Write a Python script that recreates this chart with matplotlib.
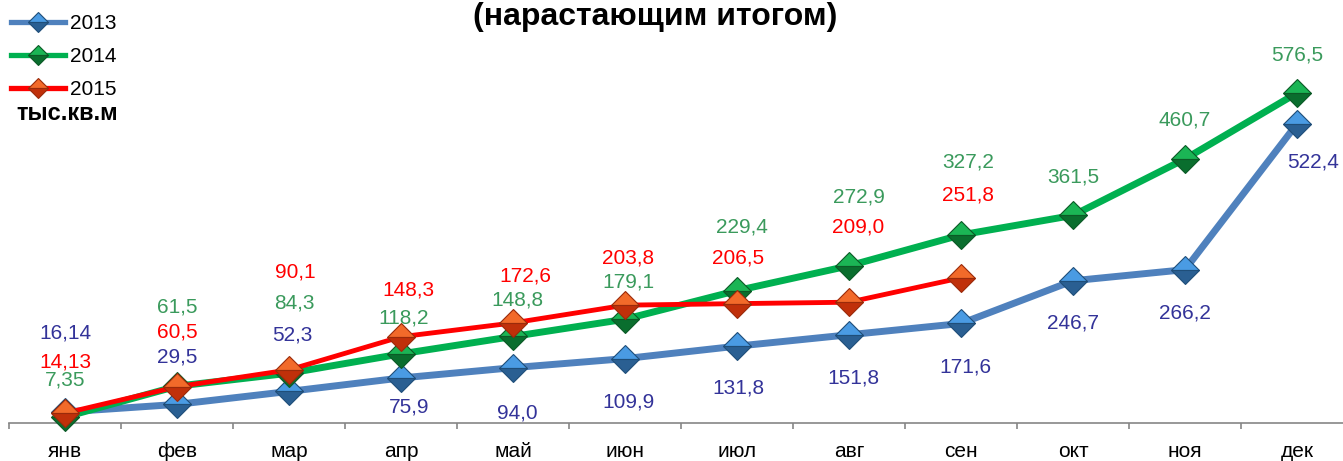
import matplotlib
matplotlib.use('Agg')
import matplotlib.pyplot as plt
from matplotlib.lines import Line2D

plt.rcParams['font.family'] = ['Liberation Sans', 'DejaVu Sans']

months = ['янв', 'фев', 'мар', 'апр', 'май', 'июн', 'июл', 'авг', 'сен', 'окт', 'ноя', 'дек']
years = ['2013', '2014', '2015']

v2013 = [16.14, 29.5, 52.3, 75.9, 94.0, 109.9, 131.8, 151.8, 171.6, 246.7, 266.2, 522.4]
v2014 = [7.35, 61.5, 84.3, 118.2, 148.8, 179.1, 229.4, 272.9, 327.2, 361.5, 460.7, 576.5]
v2015 = [14.13, 60.5, 90.1, 148.3, 172.6, 203.8, 206.5, 209.0, 251.8]

labels2013 = ['16,14', '29,5', '52,3', '75,9', '94,0', '109,9', '131,8', '151,8', '171,6', '246,7', '266,2', '522,4']
labels2014 = ['7,35', '61,5', '84,3', '118,2', '148,8', '179,1', '229,4', '272,9', '327,2', '361,5', '460,7', '576,5']
labels2015 = ['14,13', '60,5', '90,1', '148,3', '172,6', '203,8', '206,5', '209,0', '251,8']

# смещения подписей (пиксели)
dy2013 = [79, 47, 56, -29, -45, -43, -42, -43, -44, -42, -43, -38]
dy2014 = [37, 79, 70, 36, 36, 37, 64, 69, 73, 38, 39, 38]
dy2015 = [51, 55, 98, 47, 47, 47, 46, 75, 83]
dx2013 = [0, 0, 3, 8, 4, 3, 1, 4, 4, 0, 0, 16]
dx2014 = [0, 0, 5, 3, 4, 3, 5, 10, 7, 0, 0, 0]
dx2015 = [0, 0, 6, 7, 12, 3, 1, 9, 7]

W, H = 1343, 461
fig = plt.figure(figsize=(W / 100, H / 100), dpi=100)
ax = fig.add_axes([9 / W, (H - 423) / H, 1344 / W, 423 / H])

series = [
    (v2013, labels2013, dy2013, dx2013, '#4F81BD', 5.0, '#4A9BE3', '#2A5F92', '#1F4E79', '#333399', 3),
    (v2014, labels2014, dy2014, dx2014, '#00B050', 5.0, '#1BB555', '#0A6E2E', '#0B5A26', '#3A9A5C', 4),
    (v2015, labels2015, dy2015, dx2015, '#FF0000', 3.5, '#F26A2A', '#C0300A', '#9A2A0A', '#FF0000', 5),
]

x_all = list(range(len(months)))
for vals, labs, dys, dxs, col, lw, mlight, mdark, medge, tcol, z in series:
    xs = x_all[:len(vals)]
    ax.plot(xs, vals, color=col, lw=lw, marker='D', ms=14.5, fillstyle='top',
            markerfacecolor=mlight, markerfacecoloralt=mdark, markeredgecolor=medge,
            markeredgewidth=0.8, zorder=z, clip_on=False, solid_capstyle='round')
    for xi, v, lab, dy, dx in zip(xs, vals, labs, dys, dxs):
        ax.annotate(lab, (xi, v), xytext=(dx, dy), textcoords='offset pixels',
                    ha='center', va='center', fontsize=15, color=tcol, zorder=10)

ax.set_xlim(-0.5, 11.5)
ax.set_ylim(-3.2, 739.9)
ax.set_xticks(x_all)
ax.set_xticklabels(months, fontsize=15)
ax.set_xticks([i - 0.5 for i in range(13)], minor=True)
ax.tick_params(axis='x', which='major', length=0, pad=13.5)
ax.tick_params(axis='x', which='minor', length=4, color='#868686', width=1.2, direction='out')
ax.set_yticks([])
for s in ['top', 'right', 'left']:
    ax.spines[s].set_visible(False)
ax.spines['bottom'].set_color('#868686')
ax.spines['bottom'].set_linewidth(1.2)
ax.patch.set_alpha(0)

fig.text(655 / W, 1 - 25 / H, '(нарастающим итогом)', ha='center', va='baseline',
         fontsize=23, fontweight='bold')

handles = []
for vals, labs, dys, dxs, col, lw, mlight, mdark, medge, tcol, z in series:
    handles.append(Line2D([0], [0], color=col, lw=3.8, marker='D', ms=10.5, fillstyle='top',
                          markerfacecolor=mlight, markerfacecoloralt=mdark,
                          markeredgecolor=medge, markeredgewidth=0.8))
fig.legend(handles, years, loc='upper left', bbox_to_anchor=(11 / W, 1 - 14 / H),
           frameon=False, fontsize=15, handlelength=2.6, handletextpad=0.25,
           labelspacing=0.68, borderpad=0, borderaxespad=0)

fig.text(67 / W, 1 - 113 / H, 'тыс.кв.м', ha='center', va='center', fontsize=17,
         fontweight='bold')

fig.savefig('out.png', dpi=100)
